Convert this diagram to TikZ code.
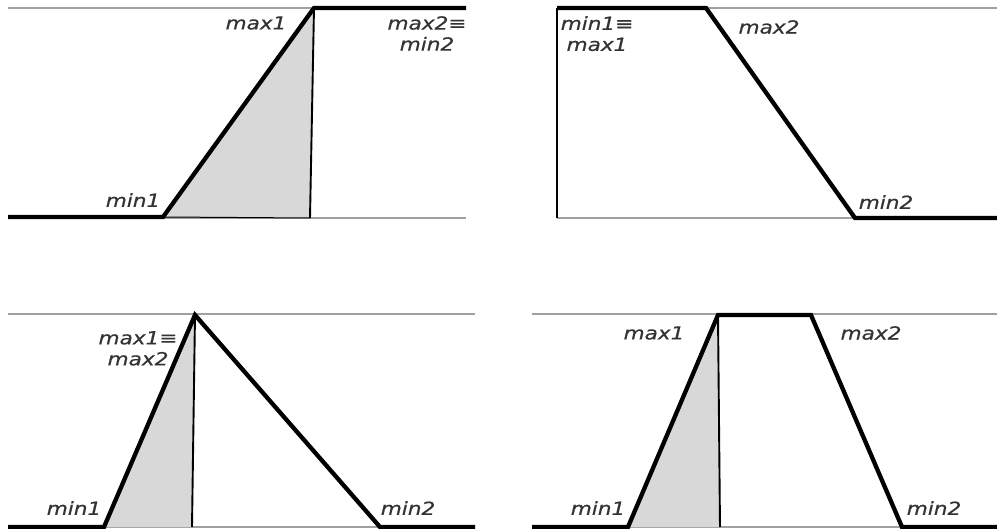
\documentclass[tikz,border=0pt]{standalone}
\usepackage{fontspec}
\newfontfamily\lblfont[FakeStretch=1.2,FakeBold=0.6]{DejaVu Sans}
\definecolor{guide}{HTML}{A0A0A0}
\definecolor{shade}{HTML}{D8D8D8}
\definecolor{txt}{HTML}{333333}
\tikzset{
  guideline/.style={draw=guide,line width=1.2pt},
  curve/.style={draw=black,line width=4.3pt,line join=miter,line cap=butt},
  cutline/.style={draw=black,line width=1.9pt},
  shadetri/.style={fill=shade,draw=none},
  lbl/.style={inner sep=0pt,text=txt,font=\lblfont\itshape\fontsize{18}{21}\selectfont,align=center}
}
\begin{document}
\begin{tikzpicture}[x=1pt,y=-1pt]
\useasboundingbox (0,0) rectangle (997,529);
\fill[white] (0,0) rectangle (997,529);
% ---------- panel 1 ----------
\coordinate (a1) at (8,217); \coordinate (b1) at (163,217);
\coordinate (c1) at (314,8); \coordinate (d1) at (466,8);
\coordinate (e1) at (310,218);
\draw[guideline] (8,8) -- (466,8);
\draw[guideline] (8,218) -- (466,218);
\path[shadetri] (b1) -- (c1) -- (e1) -- cycle;
\draw[cutline] (c1) -- (e1);
\draw[line width=1pt] (b1) -- (e1);
\draw[curve] (a1) -- (b1) -- (c1) -- (d1);
\node[lbl] (p1max1) at (256,23) {max1};
\node[lbl,anchor=north] (p1max2) at (427,16) {max2≡\\min2};
\node[lbl] (p1min1) at (133,200) {min1};
% ---------- panel 2 ----------
\coordinate (a2) at (557,218); \coordinate (b2) at (557,8);
\coordinate (c2) at (706,8); \coordinate (d2) at (855,218);
\coordinate (f2) at (997,218);
\draw[guideline] (557,8) -- (997,8);
\draw[guideline] (557,218) -- (997,218);
\draw[line width=2.8pt] (a2) -- (b2);
\draw[curve] (b2) -- (c2) -- (d2) -- (f2);
\node[lbl,anchor=north] (p2min1) at (597,16) {min1≡\\max1};
\node[lbl] (p2max2) at (769,27) {max2};
\node[lbl] (p2min2) at (886,202) {min2};
% ---------- panel 3 ----------
\coordinate (a3) at (8,527); \coordinate (b3) at (104,527);
\coordinate (c3) at (195,315); \coordinate (d3) at (380,527);
\coordinate (f3) at (475,527); \coordinate (e3) at (192,527);
\draw[guideline] (8,314) -- (475,314);
\draw[guideline] (8,527) -- (475,527);
\path[shadetri] (b3) -- (c3) -- (e3) -- cycle;
\draw[cutline] (c3) -- (e3);
\draw[curve] (a3) -- (b3) -- (c3) -- (d3) -- (f3);
\node[lbl,anchor=north] (p3max1) at (138,331) {max1≡\\max2};
\node[lbl] (p3min1) at (74,508) {min1};
\node[lbl] (p3min2) at (408,508) {min2};
% ---------- panel 4 ----------
\coordinate (a4) at (532,527); \coordinate (b4) at (628,527);
\coordinate (c4) at (718,315); \coordinate (d4) at (811,315);
\coordinate (g4) at (902,527); \coordinate (f4) at (997,527);
\coordinate (e4) at (720,527);
\draw[guideline] (532,314) -- (997,314);
\draw[guideline] (532,527) -- (997,527);
\path[shadetri] (b4) -- (c4) -- (e4) -- cycle;
\draw[cutline] (c4) -- (e4);
\draw[curve] (a4) -- (b4) -- (c4) -- (d4) -- (g4) -- (f4);
\node[lbl] (p4max1) at (654,333) {max1};
\node[lbl] (p4max2) at (871,333) {max2};
\node[lbl] (p4min1) at (598,508) {min1};
\node[lbl] (p4min2) at (934,508) {min2};
\end{tikzpicture}
\end{document}
